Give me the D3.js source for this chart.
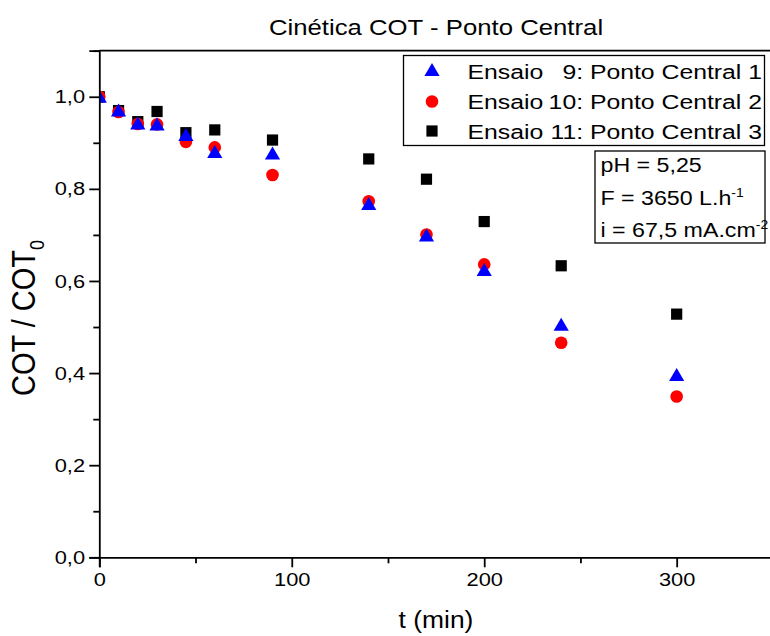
<!DOCTYPE html>
<html>
<head>
<meta charset="utf-8">
<script src="https://cdn.jsdelivr.net/npm/d3@7"></script>
<style>
  html, body { margin: 0; padding: 0; background: #fff; }
  svg { display: block; }
  text { font-family: "Liberation Sans", Arial, sans-serif; fill: #000; }
</style>
</head>
<body>
<svg id="chart" width="770" height="636"></svg>
<script>
// ---- data ----
const times = [0, 10, 20, 30, 45, 60, 90, 140, 170, 200, 240, 300];
const ensaio9  = [1.000, 0.970, 0.942, 0.940, 0.917, 0.880, 0.877, 0.767, 0.699, 0.624, 0.505, 0.396];
const ensaio10 = [1.000, 0.967, 0.941, 0.940, 0.902, 0.890, 0.830, 0.773, 0.701, 0.636, 0.466, 0.349];
const ensaio11 = [1.000, 0.970, 0.946, 0.968, 0.922, 0.928, 0.906, 0.865, 0.821, 0.729, 0.633, 0.528];
const seriesPrefix = ["Ensaio", "Ensaio", "Ensaio"];
const seriesSuffix = ["9: Ponto Central 1", "10: Ponto Central 2", "11: Ponto Central 3"];
const xTicks = [0, 100, 200, 300];
const yTicks = [0, 0.2, 0.4, 0.6, 0.8, 1.0];
const xMinor = [50, 150, 250, 350];
const yMinor = [0.1, 0.3, 0.5, 0.7, 0.9, 1.1];

const svg = d3.select("#chart");
const pL = 99.3, pR = 772.9, pT = 50.7, pB = 557.3;
const SX = 1.17; // horizontal glyph stretch seen in the reference

const x = d3.scaleLinear().domain([0, 350]).range([pL, pR]);
const y = d3.scaleLinear().domain([0, 1.1]).range([pB, pT]);

const fmt = d => d3.format(".1f")(d).replace(".", ",");

function stext(parent, px, py, size, anchor, sx) {
  return parent.append("text")
    .attr("transform", `translate(${px},${py}) scale(${sx || SX},1)`)
    .attr("text-anchor", anchor || "start")
    .style("font-size", size + "px");
}

// clip for plot area
svg.append("defs").append("clipPath").attr("id", "plotclip")
  .append("rect").attr("x", pL).attr("y", pT).attr("width", pR - pL).attr("height", pB - pT);

const triD = "M0,-7.5 L7.6,5.5 L-7.6,5.5 Z";

const gData = svg.append("g").attr("clip-path", "url(#plotclip)");
// squares first, then circles, then triangles (z-order as reference)
gData.selectAll("rect.s11").data(times).join("rect").attr("class", "s11")
  .attr("x", d => x(d) - 5.6).attr("y", (d, i) => y(ensaio11[i]) - 5.6)
  .attr("width", 11.2).attr("height", 11.2).attr("fill", "#000");
gData.selectAll("circle.s10").data(times).join("circle").attr("class", "s10")
  .attr("cx", d => x(d)).attr("cy", (d, i) => y(ensaio10[i])).attr("r", 6.3).attr("fill", "#ff0000");
gData.selectAll("path.s9").data(times).join("path").attr("class", "s9")
  .attr("d", triD)
  .attr("transform", (d, i) => `translate(${x(d)},${y(ensaio9[i]) + 0.5})`).attr("fill", "#0000ff");

// frame (top & right)
svg.append("line").attr("x1", pL).attr("x2", pR).attr("y1", pT).attr("y2", pT)
  .attr("stroke", "#000").attr("stroke-width", 1.8);
svg.append("line").attr("x1", pR).attr("x2", pR).attr("y1", pT).attr("y2", pB)
  .attr("stroke", "#000").attr("stroke-width", 1.8);

// axes
const tickSX = 1.15;
const xAxis = svg.append("g").attr("transform", `translate(0,${pB})`)
  .call(d3.axisBottom(x).tickValues(xTicks).tickFormat(d3.format("d")).tickSize(10).tickPadding(5));
const xAxisMinor = svg.append("g").attr("transform", `translate(0,${pB})`)
  .call(d3.axisBottom(x).tickValues(xMinor).tickFormat("").tickSize(6));
const yAxis = svg.append("g").attr("transform", `translate(${pL},0)`)
  .call(d3.axisLeft(y).tickValues(yTicks).tickFormat(fmt).tickSize(10).tickPadding(2.4));
const yAxisMinor = svg.append("g").attr("transform", `translate(${pL},0)`)
  .call(d3.axisLeft(y).tickValues(yMinor).tickFormat("").tickSize(6));

[xAxis, xAxisMinor, yAxis, yAxisMinor].forEach(g => {
  g.select(".domain").attr("stroke", "#000").attr("stroke-width", 1.8);
  g.selectAll(".tick line").attr("stroke", "#000").attr("stroke-width", 1.8);
  g.selectAll("text").style("font-family", "'Liberation Sans', Arial, sans-serif")
    .style("font-size", "19px").attr("fill", "#000")
    .attr("transform", `scale(${tickSX},1)`);
});
xAxisMinor.select(".domain").remove();
yAxisMinor.select(".domain").remove();

// title
stext(svg, 436, 35, 22, "middle").text("Cinética COT - Ponto Central");

// x label
stext(svg, 436, 628, 24, "middle", 1.1).text("t (min)");

// y label (stretch applies along screen x, i.e. glyph height for rotated text)
const yl = svg.append("text").attr("transform", `translate(35,318) scale(${SX},1) rotate(-90)`)
  .attr("text-anchor", "middle").style("font-size", "29px");
yl.append("tspan").text("COT / COT");
yl.append("tspan").attr("dy", 8).style("font-size", "18px").text("0");

// legend
const lg = svg.append("g");
lg.append("rect").attr("x", 403.5).attr("y", 55.5).attr("width", 361).attr("height", 90)
  .attr("fill", "#fff").attr("stroke", "#000").attr("stroke-width", 1.3);
const legendRowsY = [70.5, 101.5, 131];
const legendBase = [79, 109, 139];
lg.append("path").attr("d", triD)
  .attr("transform", `translate(432,${legendRowsY[0]})`).attr("fill", "#0000ff");
lg.append("circle").attr("cx", 432).attr("cy", legendRowsY[1]).attr("r", 6.3).attr("fill", "#ff0000");
lg.append("rect").attr("x", 432 - 5.6).attr("y", legendRowsY[2] - 5.6).attr("width", 11.2).attr("height", 11.2).attr("fill", "#000");
seriesPrefix.forEach((p, i) => {
  stext(lg, 467.5, legendBase[i], 21, "start", 1.18).text(p);
  stext(lg, 762, legendBase[i], 21, "end", 1.18).text(seriesSuffix[i]);
});

// info box
const ib = svg.append("g");
ib.append("rect").attr("x", 595).attr("y", 151).attr("width", 170).attr("height", 92)
  .attr("fill", "#fff").attr("stroke", "#000").attr("stroke-width", 1.3);
stext(ib, 600.5, 171.5, 20, "start", 1.16).text("pH = 5,25");
const t2 = stext(ib, 600.5, 205, 20, "start", 1.16);
t2.append("tspan").text("F = 3650 L.h");
t2.append("tspan").attr("dy", -8).style("font-size", "12px").text("-1");
const t3 = stext(ib, 600.5, 237, 20, "start", 1.16);
t3.append("tspan").text("i = 67,5 mA.cm");
t3.append("tspan").attr("dy", -8).style("font-size", "12px").text("-2");
</script>
</body>
</html>
